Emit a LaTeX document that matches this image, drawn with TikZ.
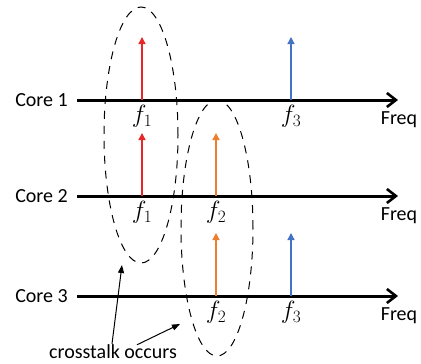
\documentclass[tikz,border=0pt]{standalone}
\usepackage{fontspec}
\setmainfont{Carlito}
\usepackage{xcolor}
\usetikzlibrary{
  arrows.meta,
  positioning,
  shapes.geometric
}
\definecolor{spkred}{RGB}{232,40,40}
\definecolor{spkorange}{RGB}{237,125,49}
\definecolor{spkblue}{RGB}{68,114,196}
\tikzset{
  line cap=round,
  line join=round,
  axis/.style={-{Straight Barb[length=9pt,width=14pt,line width=2.6pt]}, line width=3pt},
  spike/.style={-{Triangle[length=7pt,width=7pt]}, line width=1.3pt, line cap=butt},
  region/.style={draw, ellipse, dashed, dash pattern=on 8pt off 7pt, line width=1pt, inner sep=0pt},
  lbl/.style={font=\fontsize{20}{24}\selectfont, inner sep=2pt},
  flbl/.style={font=\fontsize{24}{28}\selectfont, inner sep=1pt},
  callout/.style={-{Triangle[length=8pt,width=6pt]}, line width=1pt}
}

\begin{document}
\begin{tikzpicture}[x=1pt,y=-1pt]
    \useasboundingbox (0,0) rectangle (421,364);
    % frequency axes, one per core
    \foreach \k/\y in {1/100, 2/196, 3/296} {
      \coordinate (ax\k s) at (77,\y);
      \coordinate (ax\k e) at (398,\y);
      \draw[axis] (ax\k s) -- (ax\k e);
      \node[lbl, left=7pt of ax\k s] (core\k) {Core \k};
      \node[lbl] (freq\k) at ([xshift=1pt, yshift=-20pt]ax\k e) {Freq};
    }
    % spectral lines
    \foreach \name/\x/\k/\n/\col in {
        sa/142/1/1/spkred, sb/291/1/3/spkblue,
        sc/142/2/1/spkred, sd/216/2/2/spkorange,
        se/216/3/2/spkorange, sf/291/3/3/spkblue} {
      \coordinate (\name base) at (ax\k s -| \x,0);
      \coordinate (\name top) at ([yshift=63pt]\name base);
      \draw[spike, \col] (\name base) -- (\name top);
      \node[flbl, below=4pt of \name base] (\name lbl) {$f_{\n}$};
    }
    % crosstalk regions
    \node[region, minimum width=74pt, minimum height=256pt] (reg1) at (141,135) {};
    \node[region, minimum width=72pt, minimum height=256pt] (reg2) at (217,228) {};
    \node[lbl] (ct) at (113,352) {crosstalk occurs};
    \coordinate (tip1) at (122,265);
    \coordinate (tip2) at (180,324);
    \draw[callout] ([xshift=-1pt, yshift=-1pt]ct.north) -- (tip1);
    \draw[callout] ([xshift=24pt, yshift=-2pt]ct.north) -- (tip2);
  \end{tikzpicture}
\end{document}
